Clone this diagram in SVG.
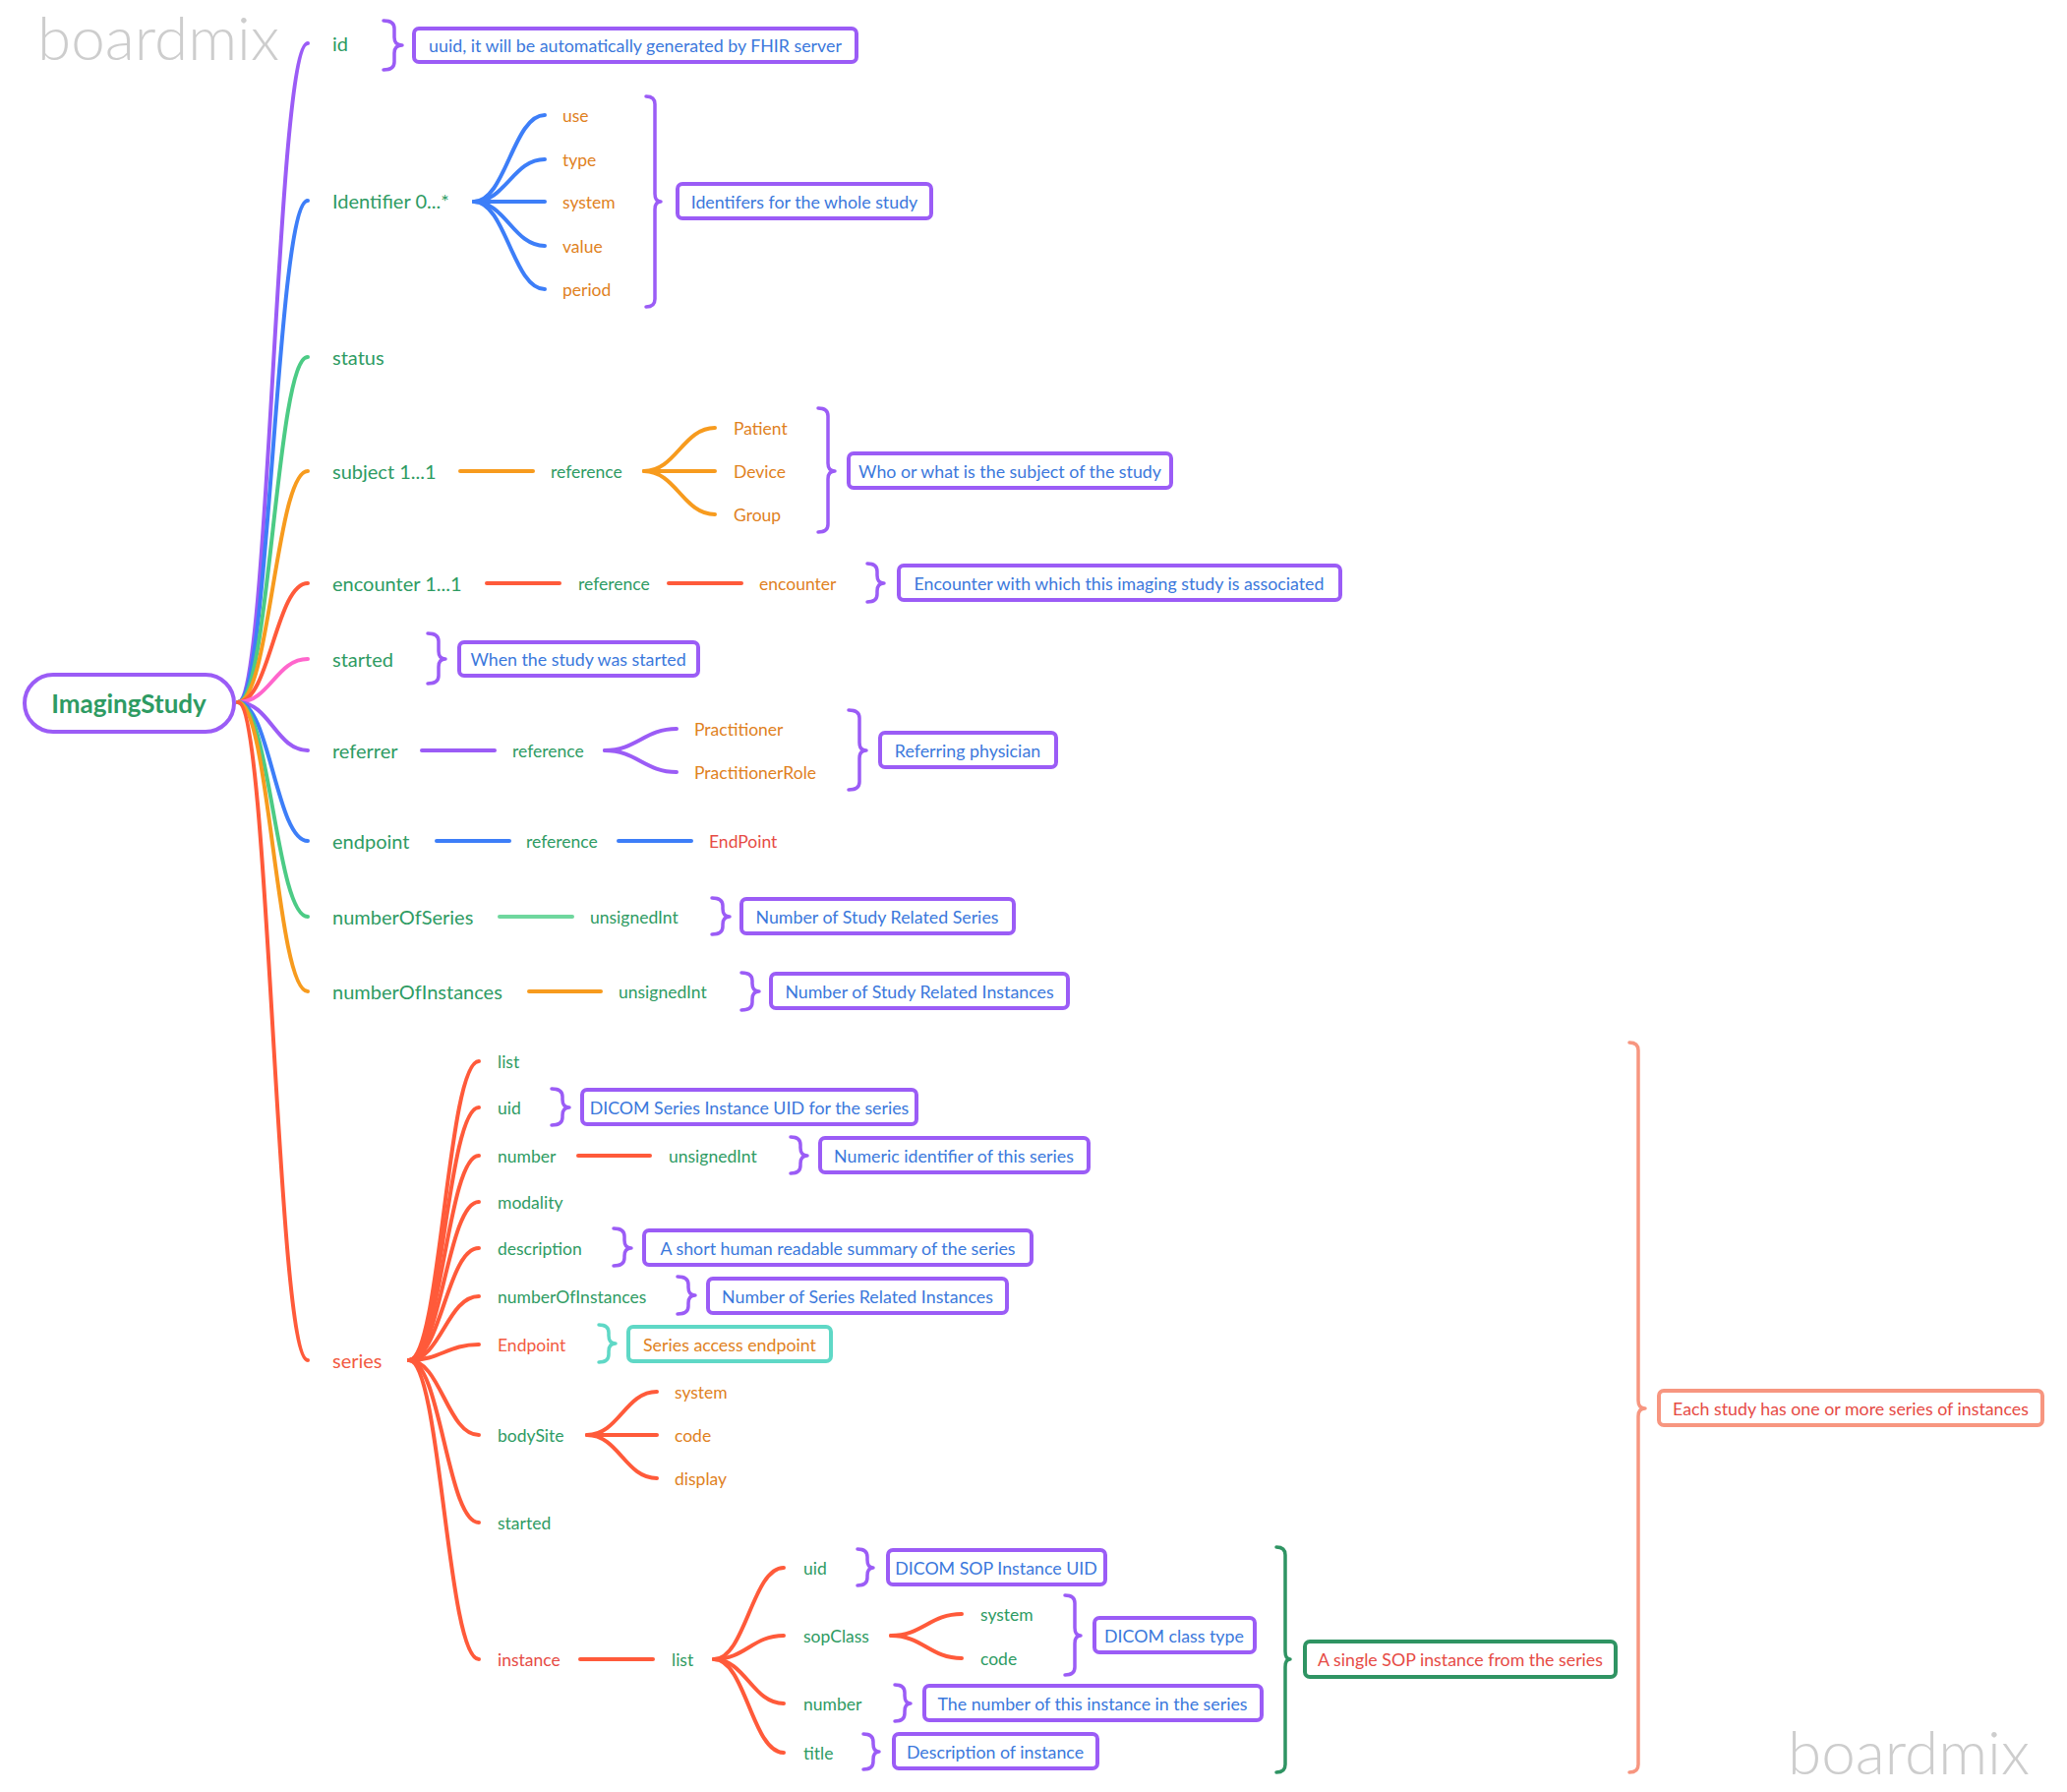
<svg xmlns="http://www.w3.org/2000/svg" width="2102" height="1822" viewBox="0 0 2102 1822">
<style>
text{font-family:Lato,"Liberation Sans",sans-serif;dominant-baseline:central}
.wm{font-size:62px;fill:#cdcdcd;font-weight:300;dominant-baseline:alphabetic}
.l1{font-size:20px;fill:#2e9b63}
.l2{font-size:17.5px}
.g{fill:#2e9b63}.o{fill:#e0811e}.r{fill:#e64b45}.sr{fill:#f25a42}
.bt{font-size:17.8px;fill:#3b78dc;text-anchor:middle}
.btr{font-size:17.8px;fill:#e64b45;text-anchor:middle}
.bto{font-size:17.8px;fill:#e0811e;text-anchor:middle}
.ln{fill:none;stroke-width:4;stroke-linecap:round}
.br{fill:none;stroke-width:3.5;stroke-linecap:round;stroke-linejoin:round}
.bx{fill:#fff;stroke-width:4}
.pu{stroke:#9b5cf6}.bl{stroke:#3d7ef8}.gr{stroke:#4ccb85}.lg{stroke:#6fd79e}.or{stroke:#f79b1e}.rd{stroke:#ff5a3a}.pk{stroke:#ff66cc}
.te{stroke:#5fd8c6}.dg{stroke:#2f9463}.sa{stroke:#f79680}
</style>
<text class="wm" x="38" y="61">boardmix</text>
<text class="wm" x="1818" y="1804">boardmix</text>

<g id="connectors">
<path class="ln pu" d="M242 714 C274 714 281 44 313 44"/>
<path class="ln bl" d="M242 714 C274 714 281 204 313 204"/>
<path class="ln gr" d="M242 714 C274 714 281 363 313 363"/>
<path class="ln or" d="M242 714 C274 714 281 479 313 479"/>
<path class="ln rd" d="M242 714 C274 714 281 593 313 593"/>
<path class="ln pk" d="M242 714 C274 714 281 670 313 670"/>
<path class="ln pu" d="M242 714 C274 714 281 763 313 763"/>
<path class="ln bl" d="M242 714 C274 714 281 855 313 855"/>
<path class="ln gr" d="M242 714 C274 714 281 932 313 932"/>
<path class="ln or" d="M242 714 C274 714 281 1008 313 1008"/>
<path class="ln rd" d="M242 714 C274 714 281 1383 313 1383"/>

<path class="ln bl" d="M482 205 C514 205 522 117 554 117"/>
<path class="ln bl" d="M482 205 C514 205 522 162 554 162"/>
<path class="ln bl" d="M482 205 L554 205"/>
<path class="ln bl" d="M482 205 C514 205 522 250 554 250"/>
<path class="ln bl" d="M482 205 C514 205 522 294 554 294"/>

<path class="ln or" d="M468 479 L542 479"/>
<path class="ln or" d="M655 479 C687 479 695 435 727 435"/>
<path class="ln or" d="M655 479 L727 479"/>
<path class="ln or" d="M655 479 C687 479 695 523 727 523"/>

<path class="ln rd" d="M495 593 L569 593"/>
<path class="ln rd" d="M680 593 L754 593"/>

<path class="ln pu" d="M429 763 L503 763"/>
<path class="ln pu" d="M615 763 C647 763 656 741 688 741"/>
<path class="ln pu" d="M615 763 C647 763 656 785 688 785"/>

<path class="ln bl" d="M444 855 L518 855"/>
<path class="ln bl" d="M629 855 L703 855"/>
<path class="ln lg" d="M508 932 L582 932"/>
<path class="ln or" d="M538 1008 L611 1008"/>

<path class="ln rd" d="M416 1383 C448 1383 455 1079 487 1079"/>
<path class="ln rd" d="M416 1383 C448 1383 455 1126 487 1126"/>
<path class="ln rd" d="M416 1383 C448 1383 455 1175 487 1175"/>
<path class="ln rd" d="M416 1383 C448 1383 455 1222 487 1222"/>
<path class="ln rd" d="M416 1383 C448 1383 455 1269 487 1269"/>
<path class="ln rd" d="M416 1383 C448 1383 455 1318 487 1318"/>
<path class="ln rd" d="M416 1383 C448 1383 455 1367 487 1367"/>
<path class="ln rd" d="M416 1383 C448 1383 455 1459 487 1459"/>
<path class="ln rd" d="M416 1383 C448 1383 455 1548 487 1548"/>
<path class="ln rd" d="M416 1383 C448 1383 455 1687 487 1687"/>

<path class="ln rd" d="M588 1175 L661 1175"/>
<path class="ln rd" d="M597 1459 C629 1459 636 1415 668 1415"/>
<path class="ln rd" d="M597 1459 L668 1459"/>
<path class="ln rd" d="M597 1459 C629 1459 636 1503 668 1503"/>

<path class="ln rd" d="M590 1687 L664 1687"/>
<path class="ln rd" d="M726 1687 C758 1687 765 1594 797 1594"/>
<path class="ln rd" d="M726 1687 C758 1687 765 1663 797 1663"/>
<path class="ln rd" d="M726 1687 C758 1687 765 1732 797 1732"/>
<path class="ln rd" d="M726 1687 C758 1687 765 1782 797 1782"/>
<path class="ln rd" d="M906 1663 C938 1663 946 1641 978 1641"/>
<path class="ln rd" d="M906 1663 C938 1663 946 1686 978 1686"/>

<path class="br pu" d="M390 21 Q401 21 401 29 L401 38 Q401 46 409 46 Q401 46 401 54 L401 63 Q401 71 390 71"/>
<path class="br pu" d="M657 98 Q666 98 666 106 L666 197 Q666 205 672 205 Q666 205 666 213 L666 304 Q666 312 657 312"/>
<path class="br pu" d="M832 415 Q842 415 842 423 L842 471 Q842 479 849 479 Q842 479 842 487 L842 533 Q842 541 832 541"/>
<path class="br pu" d="M882 573 Q892 573 892 581 L892 585 Q892 593 899 593 Q892 593 892 601 L892 604 Q892 612 882 612"/>
<path class="br pu" d="M435 644 Q446 644 446 652 L446 662 Q446 670 453 670 Q446 670 446 678 L446 687 Q446 695 435 695"/>
<path class="br pu" d="M863 722 Q874 722 874 730 L874 755 Q874 763 881 763 Q874 763 874 771 L874 795 Q874 803 863 803"/>
<path class="br pu" d="M724 913 Q735 913 735 921 L735 924 Q735 932 742 932 Q735 932 735 940 L735 942 Q735 950 724 950"/>
<path class="br pu" d="M754 989 Q765 989 765 997 L765 1000 Q765 1008 772 1008 Q765 1008 765 1016 L765 1019 Q765 1027 754 1027"/>
<path class="br pu" d="M561 1107 Q572 1107 572 1115 L572 1118 Q572 1126 579 1126 Q572 1126 572 1134 L572 1136 Q572 1144 561 1144"/>
<path class="br pu" d="M804 1156 Q814 1156 814 1164 L814 1167 Q814 1175 821 1175 Q814 1175 814 1183 L814 1185 Q814 1193 804 1193"/>
<path class="br pu" d="M624 1249 Q635 1249 635 1257 L635 1261 Q635 1269 642 1269 Q635 1269 635 1277 L635 1279 Q635 1287 624 1287"/>
<path class="br pu" d="M689 1298 Q700 1298 700 1306 L700 1309 Q700 1317 707 1317 Q700 1317 700 1325 L700 1328 Q700 1336 689 1336"/>
<path class="br te" d="M609 1347 Q619 1347 619 1355 L619 1358 Q619 1366 626 1366 Q619 1366 619 1374 L619 1377 Q619 1385 609 1385"/>
<path class="br pu" d="M872 1575 Q882 1575 882 1583 L882 1586 Q882 1594 888 1594 Q882 1594 882 1602 L882 1604 Q882 1612 872 1612"/>
<path class="br pu" d="M1083 1622 Q1093 1622 1093 1630 L1093 1655 Q1093 1663 1099 1663 Q1093 1663 1093 1671 L1093 1695 Q1093 1703 1083 1703"/>
<path class="br pu" d="M910 1713 Q920 1713 920 1721 L920 1724 Q920 1732 926 1732 Q920 1732 920 1740 L920 1742 Q920 1750 910 1750"/>
<path class="br pu" d="M878 1763 Q888 1763 888 1771 L888 1773 Q888 1781 894 1781 Q888 1781 888 1789 L888 1791 Q888 1799 878 1799"/>
<path class="br dg" d="M1298 1573 Q1307 1573 1307 1581 L1307 1679 Q1307 1687 1312 1687 Q1307 1687 1307 1695 L1307 1794 Q1307 1802 1298 1802"/>
<path class="br sa" d="M1657 1060 Q1666 1060 1666 1068 L1666 1424 Q1666 1432 1673 1432 Q1666 1432 1666 1440 L1666 1794 Q1666 1802 1657 1802"/>
</g>

<g id="root">
<rect class="bx pu" x="25" y="686" width="213" height="58" rx="29"/>
<text x="131" y="715" style="font-size:26px;font-weight:bold;fill:#2e9b63;text-anchor:middle">ImagingStudy</text>
</g>

<g id="n-id"><text class="l1" x="338" y="44">id</text></g>
<g id="n-id-note"><rect class="bx pu" x="421" y="29" width="450" height="34" rx="5"/><text class="bt" x="646" y="46">uuid, it will be automatically generated by FHIR server</text></g>

<g id="n-identifier"><text class="l1" x="338" y="204">Identifier 0...*</text></g>
<g id="n-identifier-kids">
<text class="l2 o" x="572" y="117">use</text>
<text class="l2 o" x="572" y="162">type</text>
<text class="l2 o" x="572" y="205">system</text>
<text class="l2 o" x="572" y="250">value</text>
<text class="l2 o" x="572" y="294">period</text>
</g>
<g id="n-identifier-note"><rect class="bx pu" x="689" y="187" width="258" height="35" rx="5"/><text class="bt" x="818" y="205">Identifers for the whole study</text></g>

<g id="n-status"><text class="l1" x="338" y="363">status</text></g>

<g id="n-subject"><text class="l1" x="338" y="479">subject 1...1</text></g>
<g id="n-subject-ref"><text class="l2 g" x="560" y="479">reference</text></g>
<g id="n-subject-kids">
<text class="l2 o" x="746" y="435">Patient</text>
<text class="l2 o" x="746" y="479">Device</text>
<text class="l2 o" x="746" y="523">Group</text>
</g>
<g id="n-subject-note"><rect class="bx pu" x="863" y="461" width="328" height="35" rx="5"/><text class="bt" x="1027" y="479">Who or what is the subject of the study</text></g>

<g id="n-encounter"><text class="l1" x="338" y="593">encounter 1...1</text></g>
<g id="n-encounter-ref"><text class="l2 g" x="588" y="593">reference</text></g>
<g id="n-encounter-type"><text class="l2 o" x="772" y="593">encounter</text></g>
<g id="n-encounter-note"><rect class="bx pu" x="914" y="575" width="449" height="35" rx="5"/><text class="bt" x="1138" y="593">Encounter with which this imaging study is associated</text></g>

<g id="n-started"><text class="l1" x="338" y="670">started</text></g>
<g id="n-started-note"><rect class="bx pu" x="467" y="653" width="243" height="34" rx="5"/><text class="bt" x="588" y="670">When the study was started</text></g>

<g id="n-referrer"><text class="l1" x="338" y="763">referrer</text></g>
<g id="n-referrer-ref"><text class="l2 g" x="521" y="763">reference</text></g>
<g id="n-referrer-kids">
<text class="l2 o" x="706" y="741">Practitioner</text>
<text class="l2 o" x="706" y="785">PractitionerRole</text>
</g>
<g id="n-referrer-note"><rect class="bx pu" x="895" y="745" width="179" height="35" rx="5"/><text class="bt" x="984" y="763">Referring physician</text></g>

<g id="n-endpoint"><text class="l1" x="338" y="855">endpoint</text></g>
<g id="n-endpoint-ref"><text class="l2 g" x="535" y="855">reference</text></g>
<g id="n-endpoint-type"><text class="l2 r" x="721" y="855">EndPoint</text></g>

<g id="n-nos"><text class="l1" x="338" y="932">numberOfSeries</text></g>
<g id="n-nos-type"><text class="l2 g" x="600" y="932">unsignedInt</text></g>
<g id="n-nos-note"><rect class="bx pu" x="754" y="914" width="277" height="35" rx="5"/><text class="bt" x="892" y="932">Number of Study Related Series</text></g>

<g id="n-noi"><text class="l1" x="338" y="1008">numberOfInstances</text></g>
<g id="n-noi-type"><text class="l2 g" x="629" y="1008">unsignedInt</text></g>
<g id="n-noi-note"><rect class="bx pu" x="784" y="990" width="302" height="35" rx="5"/><text class="bt" x="935" y="1008">Number of Study Related Instances</text></g>

<g id="n-series"><text class="l1 sr" x="338" y="1383">series</text></g>
<g id="n-series-kids">
<text class="l2 g" x="506" y="1079">list</text>
<text class="l2 g" x="506" y="1126">uid</text>
<text class="l2 g" x="506" y="1175">number</text>
<text class="l2 g" x="506" y="1222">modality</text>
<text class="l2 g" x="506" y="1269">description</text>
<text class="l2 g" x="506" y="1318">numberOfInstances</text>
<text class="l2 sr" x="506" y="1367">Endpoint</text>
<text class="l2 g" x="506" y="1459">bodySite</text>
<text class="l2 g" x="506" y="1548">started</text>
<text class="l2 r" x="506" y="1687">instance</text>
</g>
<g id="n-s-uid-note"><rect class="bx pu" x="592" y="1108" width="340" height="35" rx="5"/><text class="bt" x="762" y="1126">DICOM Series Instance UID for the series</text></g>
<g id="n-s-number-type"><text class="l2 g" x="680" y="1175">unsignedInt</text></g>
<g id="n-s-number-note"><rect class="bx pu" x="834" y="1157" width="273" height="35" rx="5"/><text class="bt" x="970" y="1175">Numeric identifier of this series</text></g>
<g id="n-s-desc-note"><rect class="bx pu" x="655" y="1251" width="394" height="35" rx="5"/><text class="bt" x="852" y="1269">A short human readable summary of the series</text></g>
<g id="n-s-noi-note"><rect class="bx pu" x="720" y="1300" width="304" height="35" rx="5"/><text class="bt" x="872" y="1318">Number of Series Related Instances</text></g>
<g id="n-s-endpoint-note"><rect class="bx te" x="639" y="1349" width="206" height="35" rx="5"/><text class="bto" x="742" y="1367">Series access endpoint</text></g>
<g id="n-bodysite-kids">
<text class="l2 o" x="686" y="1415">system</text>
<text class="l2 o" x="686" y="1459">code</text>
<text class="l2 o" x="686" y="1503">display</text>
</g>
<g id="n-instance-list"><text class="l2 g" x="683" y="1687">list</text></g>
<g id="n-instance-kids">
<text class="l2 g" x="817" y="1594">uid</text>
<text class="l2 g" x="817" y="1663">sopClass</text>
<text class="l2 g" x="817" y="1732">number</text>
<text class="l2 g" x="817" y="1782">title</text>
</g>
<g id="n-sopclass-kids">
<text class="l2 g" x="997" y="1641">system</text>
<text class="l2 g" x="997" y="1686">code</text>
</g>
<g id="n-i-uid-note"><rect class="bx pu" x="903" y="1576" width="221" height="35" rx="5"/><text class="bt" x="1013" y="1594">DICOM SOP Instance UID</text></g>
<g id="n-i-sop-note"><rect class="bx pu" x="1113" y="1645" width="163" height="35" rx="5"/><text class="bt" x="1194" y="1663">DICOM class type</text></g>
<g id="n-i-number-note"><rect class="bx pu" x="940" y="1714" width="343" height="35" rx="5"/><text class="bt" x="1111" y="1732">The number of this instance in the series</text></g>
<g id="n-i-title-note"><rect class="bx pu" x="909" y="1763" width="207" height="35" rx="5"/><text class="bt" x="1012" y="1781">Description of instance</text></g>
<g id="n-instance-note"><rect class="bx dg" x="1327" y="1669" width="316" height="36" rx="5"/><text class="btr" x="1485" y="1687">A single SOP instance from the series</text></g>
<g id="n-series-note"><rect class="bx sa" x="1687" y="1414" width="390" height="35" rx="5"/><text class="btr" x="1882" y="1432">Each study has one or more series of instances</text></g>
</svg>
